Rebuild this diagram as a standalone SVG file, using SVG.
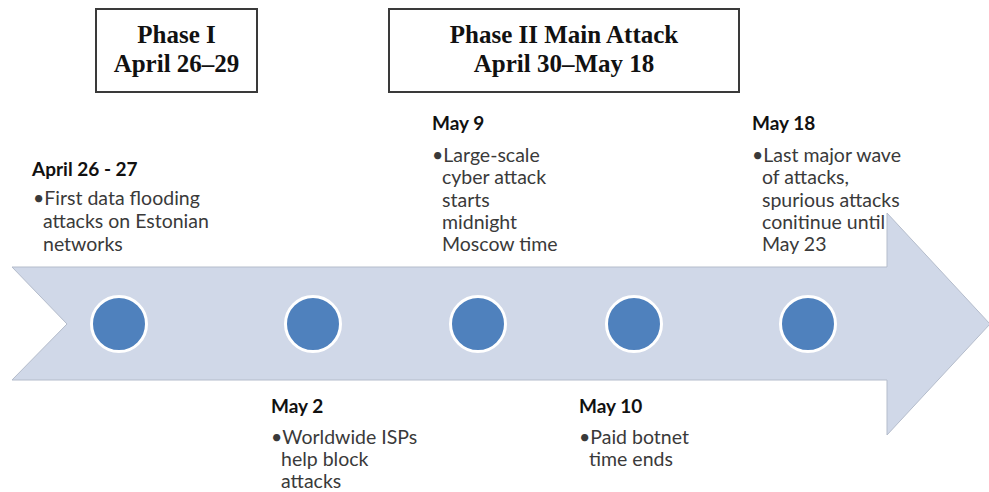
<svg xmlns="http://www.w3.org/2000/svg" width="989" height="492" viewBox="0 0 989 492">
<style>
.box{fill:#fff;stroke:#3a3a3a;stroke-width:2}
.ph{font-family:"Liberation Serif",serif;font-weight:bold;font-size:25px;fill:#111;text-anchor:middle}
.hd{font-family:Lato,"Liberation Sans",sans-serif;font-weight:bold;font-size:19px;fill:#111}
.tx{font-family:Lato,"Liberation Sans",sans-serif;font-size:19.5px;fill:#3a3a3a}
.dot{fill:#4F81BD;stroke:#fff;stroke-width:3}
</style>
<rect width="989" height="492" fill="#fff"/>
<g id="arrow">
<path d="M12,267 L887,267 L887,213 L990,324 L887,435 L887,380 L12,380 L67,324 Z" fill="#D0D8E8" stroke="#b4bccb" stroke-width="1"/>
</g>
<g id="phase1">
<rect class="box" x="96" y="9" width="161" height="83"/>
<text class="ph" x="176.5" y="43">Phase I</text>
<text class="ph" x="176.5" y="72">April 26–29</text>
</g>
<g id="phase2">
<rect class="box" x="389" y="9" width="350" height="83"/>
<text class="ph" x="564" y="43">Phase II Main Attack</text>
<text class="ph" x="564" y="72">April 30–May 18</text>
</g>
<g id="ev1">
<circle class="dot" cx="119" cy="324" r="27.5"/>
<text class="hd" x="32" y="176">April 26 - 27</text>
<text class="tx" x="33" y="205">•First data flooding</text>
<text class="tx" x="43" y="228">attacks on Estonian</text>
<text class="tx" x="43" y="251">networks</text>
</g>
<g id="ev2">
<circle class="dot" cx="313" cy="324" r="27.5"/>
<text class="hd" x="271" y="413">May 2</text>
<text class="tx" x="271" y="444">•Worldwide ISPs</text>
<text class="tx" x="281" y="466">help block</text>
<text class="tx" x="281" y="488">attacks</text>
</g>
<g id="ev3">
<circle class="dot" cx="478" cy="324" r="27.5"/>
<text class="hd" x="432" y="130">May 9</text>
<text class="tx" x="432" y="162">•Large-scale</text>
<text class="tx" x="442" y="184">cyber attack</text>
<text class="tx" x="442" y="207">starts</text>
<text class="tx" x="442" y="229">midnight</text>
<text class="tx" x="442" y="251">Moscow time</text>
</g>
<g id="ev4">
<circle class="dot" cx="634" cy="324" r="27.5"/>
<text class="hd" x="579" y="413">May 10</text>
<text class="tx" x="579" y="444">•Paid botnet</text>
<text class="tx" x="589" y="466">time ends</text>
</g>
<g id="ev5">
<circle class="dot" cx="808" cy="324" r="27.5"/>
<text class="hd" x="752" y="130">May 18</text>
<text class="tx" x="752" y="162">•Last major wave</text>
<text class="tx" x="762" y="184">of attacks,</text>
<text class="tx" x="762" y="207">spurious attacks</text>
<text class="tx" x="762" y="229">conitinue until</text>
<text class="tx" x="762" y="251">May 23</text>
</g>
<g id="connectors"></g>
</svg>
